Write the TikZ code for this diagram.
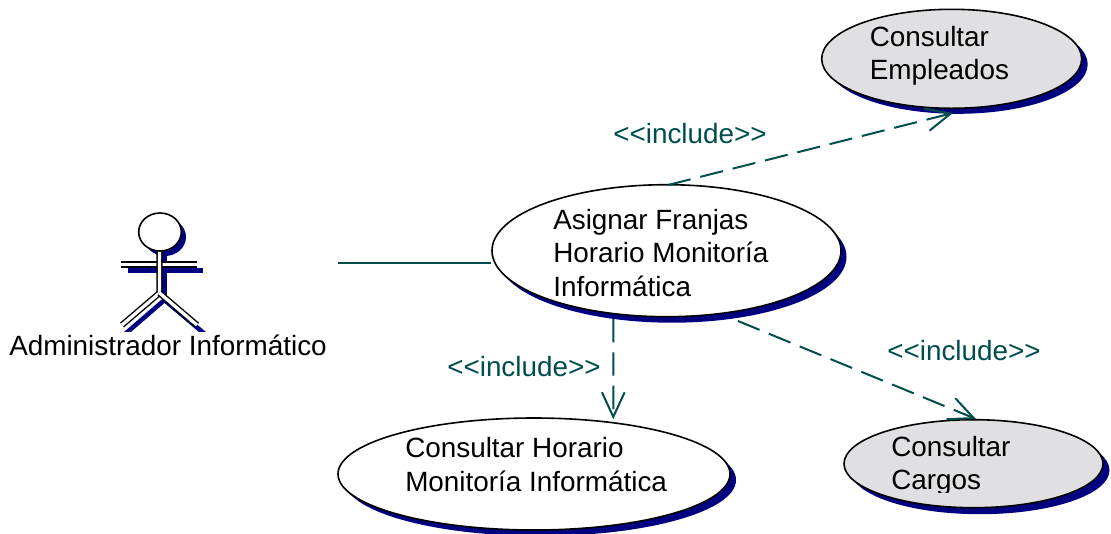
\documentclass[tikz,border=0pt]{standalone}
\usepackage{fontspec}
\setmainfont{Liberation Sans}
\usetikzlibrary{shapes.geometric,arrows.meta}
\definecolor{conn}{RGB}{0,77,77}
\definecolor{shadow}{RGB}{0,0,128}
\definecolor{ucgray}{RGB}{224,224,226}
\tikzset{
  x=0.75pt,y=-0.75pt,
  uc/.style={ellipse,draw=black,line width=1.2pt,inner sep=0pt},
  lbl/.style={font=\fontsize{20.9pt}{25pt}\selectfont,align=left,inner sep=0pt,anchor=north west,text=black},
  inc/.style={font=\fontsize{20.9pt}{25pt}\selectfont,inner sep=0pt,text=conn},
  dep/.style={draw=conn,line width=1.5pt,dash pattern=on 17.5pt off 7.5pt,-{Straight Barb[length=18.5pt,width=17pt,line width=1.5pt,sep=0pt]}},
  assoc/.style={draw=conn,line width=1.5pt},
  limb/.style={draw=black,line width=1.05pt,double=white,double distance=2.5pt,line join=miter},
  limbshad/.style={draw=shadow,line width=3.4pt}
}
\begin{document}
\begin{tikzpicture}
\useasboundingbox (0,0) rectangle (1111,533);
% shadows
\fill[shadow] (957.7,64.3) ellipse [x radius=130,y radius=49.5];
\fill[shadow] (672,256.7) ellipse [x radius=174.5,y radius=66];
\fill[shadow] (540,480) ellipse [x radius=196,y radius=56];
\fill[shadow] (980,470.2) ellipse [x radius=129.5,y radius=44];
% use cases
\node[uc,minimum width=195pt,minimum height=74.25pt,fill=ucgray] (emp) at (951.7,58.8) {};
\node[uc,minimum width=261.75pt,minimum height=99pt,fill=white] (main) at (666.5,250.7) {};
\node[uc,minimum width=294pt,minimum height=84pt,fill=white] (hor) at (534,474) {};
\node[uc,minimum width=194.25pt,minimum height=66pt,fill=ucgray] (car) at (973.5,463.7) {};
\node[lbl] (empt) at (869.5,26) {Consultar\\Empleados};
\node[lbl] (maint) at (553,209) {Asignar Franjas\\Horario Monitoría\\Informática};
\node[lbl] (hort) at (405,437.5) {Consultar Horario\\Monitoría Informática};
\begin{scope}
\clip (880,425) rectangle (1040,492.5);
\node[lbl] (cart) at (891,436) {Consultar\\Cargos};
\end{scope}
% actor
\fill[shadow] (165,237) ellipse [x radius=21,y radius=19];
\begin{scope}
\clip (100,240) rectangle (220,331);
\draw[limbshad] (128,270.5) -- (203,270.5);
\draw[limbshad] (164.5,255) -- (164.5,300) -- (124,335);
\draw[limbshad] (164.5,300) -- (206,335);
\end{scope}
\draw[limb] (121,264.5) -- (197,264.5);
\draw[limb] (159.5,249) -- (159.5,293) -- (122,325);
\draw[limb] (159.5,293) -- (197,325);
\node[ellipse,draw=black,fill=white,line width=1.2pt,minimum width=32pt,minimum height=28.5pt,inner sep=0pt] (head) at (160,232) {};
\node[inc,text=black,anchor=base west] (actor) at (9,355) {Administrador Informático};
% connectors
\coordinate (free) at (338,262.5);
\draw[assoc] (free) -- (main.west |- free);
\draw[dep] ([shift={(1.5,-65.7)}]main.center) -- ([shift={(1.3,54.2)}]emp.center);
\draw[dep] ([shift={(-53.2,68.3)}]main.center) -- ([shift={(79.3,-54.7)}]hor.center);
\draw[dep] ([shift={(71.5,70.3)}]main.center) -- ([shift={(2.5,-44.7)}]car.center);
\node[inc,anchor=base west] (i1) at (613,143) {<{}<include>{}>};
\node[inc,anchor=base west] (i2) at (447,376) {<{}<include>{}>};
\node[inc,anchor=base west] (i3) at (887,360) {<{}<include>{}>};
\end{tikzpicture}
\end{document}
